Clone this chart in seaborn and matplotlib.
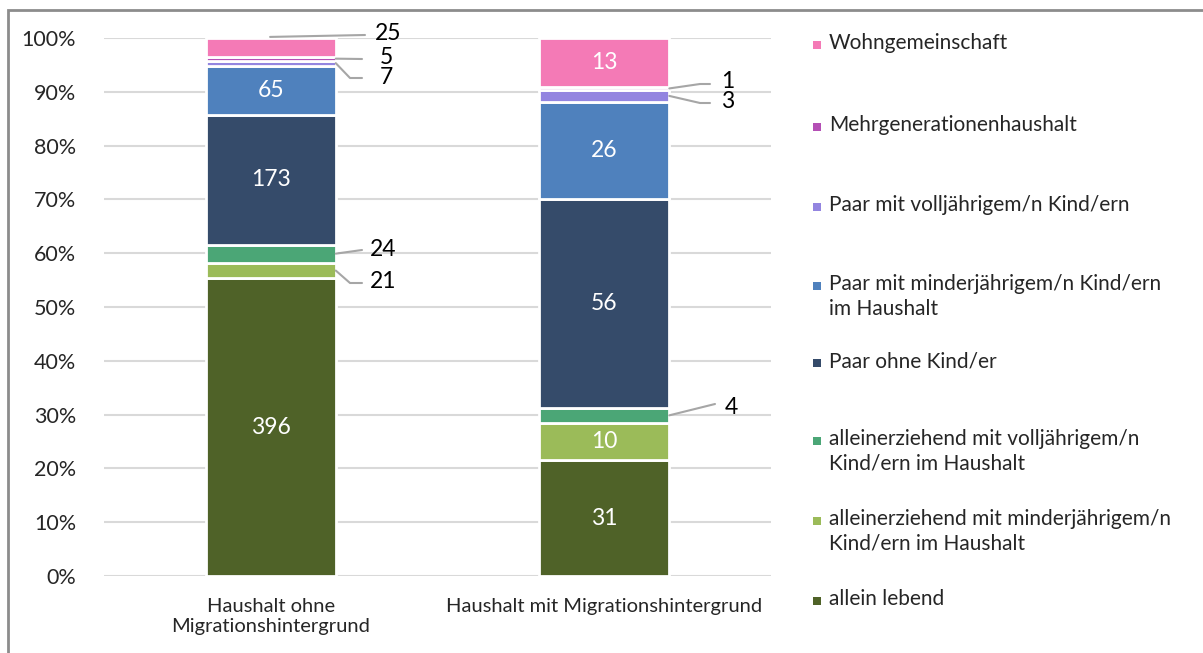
import numpy as np
import matplotlib
matplotlib.use("Agg")
import matplotlib.pyplot as plt
import seaborn as sns
from matplotlib.patches import Rectangle

# categories on the x axis
categories = ["Haushalt ohne\nMigrationshintergrund", "Haushalt mit Migrationshintergrund"]

# series, bottom to top (counts per category)
series = [
    "allein lebend",
    "alleinerziehend mit minderjährigem/n\nKind/ern im Haushalt",
    "alleinerziehend mit volljährigem/n\nKind/ern im Haushalt",
    "Paar ohne Kind/er",
    "Paar mit minderjährigem/n Kind/ern\nim Haushalt",
    "Paar mit volljährigem/n Kind/ern",
    "Mehrgenerationenhaushalt",
    "Wohngemeinschaft",
]
allein_lebend = [396, 31]
allein_minderj = [21, 10]
allein_vollj = [24, 4]
paar_ohne = [173, 56]
paar_minderj = [65, 26]
paar_vollj = [7, 3]
mehrgen = [5, 1]
wg = [25, 13]
values = [allein_lebend, allein_minderj, allein_vollj, paar_ohne,
          paar_minderj, paar_vollj, mehrgen, wg]

colors = ["#4F6228", "#9BBB59", "#4BA676", "#354B6A",
          "#4F81BD", "#9385E0", "#B44FB5", "#F47AB6"]

W, H = 1203, 653
AX_L, AX_R, AX_T, AX_B = 104, 771, 38, 576
BAR_W = 0.39

sns.set_theme(style="white")
plt.rcParams["font.family"] = ["Lato", "DejaVu Sans"]

fig = plt.figure(figsize=(W / 100, H / 100), dpi=100)
ax = fig.add_axes([AX_L / W, 1 - AX_B / H, (AX_R - AX_L) / W, (AX_B - AX_T) / H])

counts = np.array(values, dtype=float)
totals = counts.sum(axis=0)
pct = counts / totals * 100

ax.set_axisbelow(True)
for yv in range(0, 101, 10):
    ax.axhline(yv, color="#D9D9D9", lw=1.5, zorder=0)

bottom = np.zeros(len(categories))
for i, name in enumerate(series):
    sns.barplot(x=categories, y=pct[i], bottom=bottom, color=colors[i],
                width=BAR_W, edgecolor="white", linewidth=2, saturation=1,
                errorbar=None, ax=ax, order=categories, zorder=2)
    for j in range(len(categories)):
        if pct[i, j] > 5:
            ax.text(j, bottom[j] + pct[i, j] / 2, f"{int(counts[i, j])}",
                    ha="center", va="center", color="white", fontsize=16.5)
    bottom = bottom + pct[i]


def px(x, y):
    # pixel position -> data coords
    return ((x - AX_L) / (AX_R - AX_L) * 2 - 0.5,
            (AX_B - y) / (AX_B - AX_T) * 100)


# outside labels: (series index, category index, anchor, leader points px, text pos px)
outside = [
    (7, 0, "top", [(365, 35)], (375, 33)),
    (6, 0, "side", [(362, 59)], (380, 58)),
    (5, 0, "side", [(350, 78), (362, 78)], (380, 78)),
    (2, 0, "side", [(362, 250)], (370, 250)),
    (1, 0, "side", [(350, 283), (362, 283)], (370, 282)),
    (6, 1, "side", [(700, 84), (710, 84)], (721, 82)),
    (5, 1, "side", [(700, 103), (710, 103)], (721, 102)),
    (2, 1, "side", [(715, 404)], (725, 408)),
]
cum = np.vstack([np.zeros(len(categories)), np.cumsum(pct, axis=0)])
for si, cj, anchor, pts, tpos in outside:
    if anchor == "top":
        start = (cj - 0.002, cum[si + 1, cj] + 0.2)
    else:
        start = (cj + BAR_W / 2, cum[si, cj] + pct[si, cj] / 2)
    xs = [start[0]] + [px(*p)[0] for p in pts]
    ys = [start[1]] + [px(*p)[1] for p in pts]
    ax.plot(xs, ys, color="#A6A6A6", lw=1.5, zorder=3, clip_on=False)
    tx, ty = px(*tpos)
    ax.text(tx, ty, f"{int(counts[si, cj])}", ha="left", va="center",
            fontsize=16.5, color="black", clip_on=False)

ax.set_xlim(-0.5, 1.5)
ax.set_ylim(0, 100)
ax.set_yticks(range(0, 101, 10))
ax.set_yticklabels([f"{v}%" for v in range(0, 101, 10)], fontsize=15.5, color="#262626")
ax.set_xticks(range(len(categories)))
ax.set_xticklabels(categories, fontsize=14.5, color="#262626", linespacing=1.2)
ax.tick_params(axis="x", length=0, pad=16)
ax.tick_params(axis="y", length=0, pad=20)
ax.set_xlabel("")
ax.set_ylabel("")
sns.despine(ax=ax, left=True, bottom=True)

# legend, drawn by hand so squares align with the first text line
leg_y = [45, 127, 207, 286, 363, 441, 521, 601]
order = list(range(len(series)))[::-1]
for k, i in enumerate(order):
    y = leg_y[k]
    fig.patches.append(Rectangle((813 / W, 1 - (y + 4) / H), 8 / W, 8 / H,
                                 transform=fig.transFigure, facecolor=colors[i],
                                 edgecolor="none"))
    fig.text(829 / W, 1 - (y - 12) / H, series[i], ha="left", va="top",
             fontsize=15, color="#262626", linespacing=1.3)

# outer frame
fig.patches.append(Rectangle((8 / W, -0.1), 1.2, 1 - 10 / H + 0.1,
                             transform=fig.transFigure, facecolor="none",
                             edgecolor="#8C8C8C", lw=2))

fig.savefig("out.png", dpi=100)
